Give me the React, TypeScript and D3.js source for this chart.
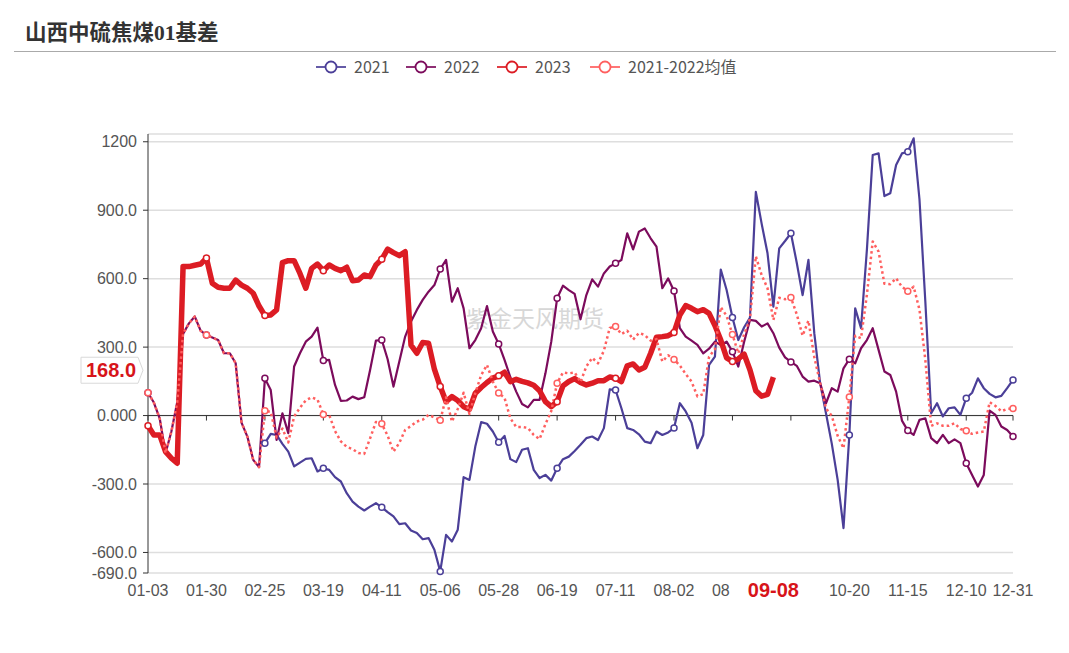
import React from "react";
import * as d3 from "d3";

// category axis: one slot per trading-day group, labels every 10 slots
const tickIdx = [0, 10, 20, 30, 40, 50, 60, 70, 80, 90, 100, 110, 120, 130, 140, 148];
const tickLabels = ["01-03", "01-30", "02-25", "03-19", "04-11", "05-06", "05-28", "06-19", "07-11", "08-02", "08-24", "09-14", "10-20", "11-15", "12-10", "12-31"];
const yTicks = [1200, 900, 600, 300, 0, -300, -600, -690];
const yTickLabels = ["1200", "900.0", "600.0", "300.0", "0.000", "-300.0", "-600.0", "-690.0"];
const yMin = -690;
const yMax = 1234;

const s2021 = [
  null, null, null, null, null, null, null, null, null, null,
  null, null, null, null, null, null, null, null, null, null,
  -121, -80, -85, -124, -158, -223, -206, -190, -187, -245,
  -231, -238, -270, -289, -340, -377, -399, -416, -399, -384,
  -402, -423, -442, -476, -472, -504, -515, -542, -537, -588,
  -683, -523, -552, -500, -270, -282, -136, -29, -36, -70,
  -117, -89, -191, -204, -150, -143, -238, -274, -260, -285,
  -231, -191, -180, -155, -128, -99, -92, -107, -55, 115,
  112, 32, -55, -63, -82, -114, -121, -70, -85, -74,
  -55, 54, 18, -31, -143, -85, 222, 258, 640, 550,
  430, 331, 387, 430, 980, 840, 711, 477, 733, 765,
  799, 670, 528, 682, 361, 142, 10, -124, -282, -493,
  -85, 470, 383, 726, 1142, 1149, 962, 974, 1098, 1149,
  1156, 1215, 947, 500, 10, 54, -4, 32, 36, 3,
  76, 100, 163, 120, 95, 80, 86, 120, 156,
];

const s2022 = [
  100, 57, -12, -165, -70, 58, 358, 404, 434, 372,
  353, 342, 331, 273, 273, 229, -31, -92, -194, -226,
  163, 112, -107, 10, -77, 215, 273, 324, 346, 385,
  241, 244, 134, 64, 66, 83, 72, 80, 200, 329,
  331, 247, 127, 237, 346, 412, 463, 507, 543, 572,
  642, 682, 499, 558, 470, 295, 331, 383, 480, 368,
  314, 244, 168, 105, 51, 36, 69, 69, 185, 324,
  514, 569, 550, 533, 422, 528, 597, 565, 623, 653,
  667, 682, 799, 728, 806, 820, 777, 740, 558, 601,
  546, 383, 346, 328, 310, 273, 293, 324, 309, 324,
  280, 215, 324, 419, 415, 390, 404, 361, 298, 255,
  235, 218, 171, 149, 153, 142, 54, 120, 105, 207,
  247, 229, 295, 331, 383, 288, 193, 178, 105, -22,
  -66, -85, -19, -12, -99, -121, -85, -121, -104, -121,
  -209, -260, -311, -260, 22, 3, -48, -63, -92,
];

const s2023 = [
  -45, -85, -85, -158, -187, -209, 653, 653, 659, 664,
  690, 580, 562, 558, 558, 594, 572, 558, 536, 480,
  438, 441, 463, 670, 679, 679, 623, 558, 645, 664,
  635, 660, 645, 635, 650, 591, 594, 616, 609, 660,
  685, 729, 714, 701, 718, 309, 273, 320, 317, 203,
  127, 61, 83, 66, 39, 28, 98, 123, 145, 164,
  174, 190, 149, 159, 150, 143, 133, 109, 61, 39,
  61, 130, 149, 162, 145, 134, 142, 153, 153, 169,
  164, 149, 218, 226, 200, 212, 273, 343, 346, 350,
  364, 441, 482, 470, 455, 464, 448, 395, 331, 253,
  237, 248, 269, 200, 109, 85, 93, 168,
];

const sAvg = [
  100, 57, -12, -165, -70, 58, 358, 404, 434, 372,
  353, 342, 331, 273, 273, 229, -31, -92, -194, -226,
  21, 16, -96, -57, -118, -4, 34, 67, 80, 70,
  5, 3, -68, -113, -137, -147, -164, -168, -100, -28,
  -36, -88, -158, -120, -63, -46, -26, -18, 3, -8,
  -21, 80, -27, 29, 100, 7, 98, 177, 222, 149,
  99, 78, -12, -50, -50, -54, -85, -103, -38, 20,
  142, 189, 185, 189, 147, 215, 253, 229, 284, 384,
  390, 357, 372, 333, 362, 353, 328, 335, 237, 264,
  246, 219, 182, 149, 84, 94, 258, 291, 475, 437,
  355, 273, 356, 425, 698, 615, 558, 419, 516, 510,
  517, 444, 350, 416, 257, 142, 32, -2, -89, -143,
  81, 350, 339, 529, 763, 719, 578, 576, 602, 564,
  545, 565, 464, 244, -45, -34, -45, -45, -34, -59,
  -67, -80, -74, -70, 59, 42, 19, 29, 31,
];

const lastValue = 168;
const lastDate = "09-08";

const series = [
  { name: "2021", data: s2021, color: "#4b3f98", width: 2.2, dash: null },
  { name: "2022", data: s2022, color: "#7c0b5c", width: 2.2, dash: null },
  { name: "2023", data: s2023, color: "#dc1c24", width: 5.5, dash: null },
  { name: "2021-2022均值", data: sAvg, color: "#ff5f5f", width: 2.5, dash: "2.5 3" },
];

const W = 1069;
const H = 653;
const left = 148;
const right = 1013;
const top = 134;
const bottom = 573;
const font = "'Noto Sans CJK SC', 'Noto Sans', sans-serif";
const numFont = "'Liberation Sans', 'Noto Sans CJK SC', sans-serif";

const App = () => {
  const x = d3.scaleLinear().domain([0, 148]).range([left, right]);
  const y = d3.scaleLinear().domain([yMin, yMax]).range([bottom, top]);

  const line = d3
    .line<number | null>()
    .defined((d) => d != null)
    .x((d, i) => x(i))
    .y((d) => y(d as number))
    .curve(d3.curveLinear);

  // legend layout (icon start)
  const legendX = [316, 406, 497, 590];
  const legendY = 67;

  const lastIdx = s2023.length - 1;
  const px = x(lastIdx);
  const tagY = y(lastValue) - 7;
  const boxL = px - 44;
  const boxR = px + 44;
  const half = 20.5; // half width of an "MM-DD" label at 16px

  // the pointer label box hides tick labels under it; a label cut by its edge keeps only the visible part
  const xTicks = tickIdx
    .map((k, i) => ({ k, label: tickLabels[i], cx: x(k) }))
    .filter((t) => t.cx - half < boxL || t.cx + half > boxR)
    .map((t) =>
      t.cx - half < boxL && t.cx + half > boxL
        ? { ...t, label: t.label.slice(0, 2), cut: true }
        : { ...t, cut: false }
    );

  return (
    <svg width={W} height={H} style={{ position: "absolute", left: 0, top: 0, background: "#fff" }}>
      <text x={25} y={40} fontFamily="'Liberation Serif', 'Noto Sans CJK SC', serif" fontWeight="bold" fontSize={21.5} fill="#333">
        山西中硫焦煤01基差
      </text>
      <line x1={14} x2={1056} y1={51.5} y2={51.5} stroke="#aaa" strokeWidth={1} />

      {/* legend */}
      {series.map((s, i) => (
        <g key={s.name} transform={`translate(${legendX[i]},${legendY})`}>
          <line x1={0} x2={30} y1={0} y2={0} stroke={s.color} strokeWidth={2} opacity={0.85} />
          <circle cx={15} cy={0} r={5.5} fill="#fff" stroke={s.color} strokeWidth={1.8} />
          <text x={38} y={0} dy="0.35em" fontFamily={font} fontSize={16} fill="#555">
            {s.name}
          </text>
        </g>
      ))}

      {/* grid */}
      {[...yTicks, yMax].map((t) => (
        <line key={"g" + t} x1={left} x2={right} y1={y(t)} y2={y(t)} stroke="#dedede" strokeWidth={1.5} />
      ))}

      {/* watermark */}
      <text x={535} y={319} dy="0.35em" textAnchor="middle" fontFamily={font} fontSize={23} fill="#bdbdbd" opacity={0.6}>
        紫金天风期货
      </text>

      {/* y axis */}
      <line x1={left} x2={left} y1={top} y2={bottom} stroke="#333" strokeWidth={1} />
      {yTicks.map((t, i) => (
        <g key={"y" + t}>
          <line x1={left - 5} x2={left} y1={y(t)} y2={y(t)} stroke="#333" />
          <text x={left - 11} y={y(t)} dy="0.35em" textAnchor="end" fontFamily={numFont} fontSize={16} fill="#555">
            {yTickLabels[i]}
          </text>
        </g>
      ))}

      {/* x axis on zero */}
      <line x1={left} x2={right} y1={y(0)} y2={y(0)} stroke="#333" strokeWidth={1} />
      {tickIdx.map((k) => (
        <line key={"xt" + k} x1={x(k)} x2={x(k)} y1={y(0)} y2={y(0) + 5} stroke="#333" />
      ))}
      {xTicks.map((t) => (
        <text
          key={"x" + t.k}
          x={t.cut ? t.cx - half : t.cx}
          y={590}
          dy="0.35em"
          textAnchor={t.cut ? "start" : "middle"}
          fontFamily={numFont}
          fontSize={16}
          fill="#555"
        >
          {t.label}
        </text>
      ))}

      {/* series */}
      {series.map((s) => (
        <path
          key={s.name}
          d={line(s.data) || ""}
          fill="none"
          stroke={s.color}
          strokeWidth={s.width}
          strokeDasharray={s.dash || undefined}
          strokeLinejoin="round"
        />
      ))}
      {series.map((s) =>
        tickIdx
          .filter((k) => s.data[k] != null)
          .map((k) => (
            <circle key={s.name + k} cx={x(k)} cy={y(s.data[k] as number)} r={3} fill="#fff" stroke={s.color} strokeWidth={1.5} />
          ))
      )}

      {/* axis pointer labels */}
      <text x={px} y={590} dy="0.35em" textAnchor="middle" fontFamily={numFont} fontWeight="bold" fontSize={20} fill="#d7141a">
        {lastDate}
      </text>
      <path
        d={`M81,${tagY - 13} H138 L143,${tagY} L138,${tagY + 13} H81 Z`}
        fill="#fff"
        stroke="#d9d9d9"
        strokeWidth={1}
      />
      <text x={111} y={tagY} dy="0.35em" textAnchor="middle" fontFamily={numFont} fontWeight="bold" fontSize={20} fill="#d7141a">
        {lastValue.toFixed(1)}
      </text>
    </svg>
  );
};

export default App;
